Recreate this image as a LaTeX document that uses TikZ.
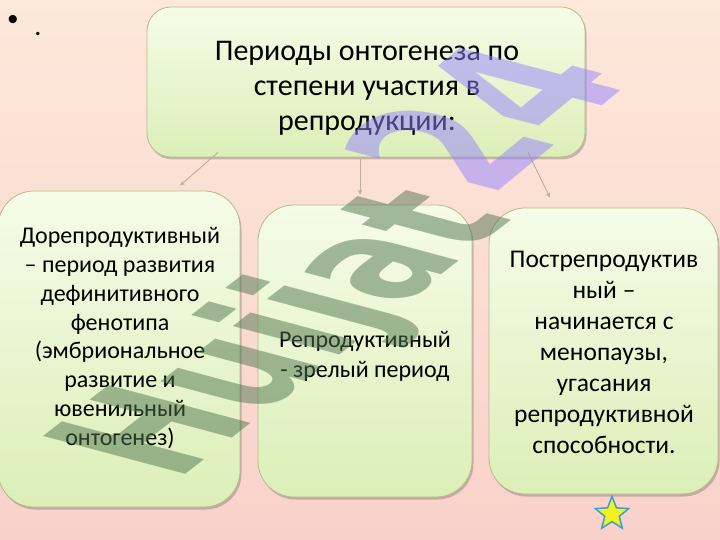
\documentclass[tikz,border=0pt]{standalone}
\usepackage{fontspec}
\setmainfont{Carlito}
\newfontfamily\wmfont{DejaVu Sans}
\newfontfamily\bulfont{Liberation Sans}
\usetikzlibrary{shapes.geometric,shadows,calc,arrows.meta}
\definecolor{bgtop}{HTML}{FDE8DA}
\definecolor{bgbot}{HTML}{F8D2CA}
\definecolor{boxtop}{HTML}{F5FCE8}
\definecolor{boxbot}{HTML}{DCEFB8}
\definecolor{boxborder}{HTML}{BDB88A}
\definecolor{conncol}{HTML}{BFAE98}
\definecolor{starfill}{HTML}{F2F21E}
\definecolor{starline}{HTML}{3A9FD0}
\definecolor{wmgreen}{HTML}{50754F}
\definecolor{wmpurple}{HTML}{9482FF}
\tikzset{
  box/.style={draw=boxborder, line width=0.8pt, top color=boxtop, bottom color=boxbot,
    drop shadow={shadow xshift=1.5pt, shadow yshift=-2.5pt, opacity=0.3, fill=black!70}},
  txt/.style={align=center, inner sep=0pt, text=black},
  conn/.style={draw=conncol, line width=0.9pt, -{Stealth[length=5pt,width=4.5pt]}},
  wm/.style={font=\wmfont\bfseries\fontsize{100}{100}\selectfont, inner sep=0pt, opacity=0.5}
}
\begin{document}
\begin{tikzpicture}[x=1pt,y=-1pt]
\useasboundingbox (0,0) rectangle (720,540);
\shade[top color=bgtop,bottom color=bgbot] (0,0) rectangle (720,540);

\node[box, minimum width=438pt, minimum height=150pt, rounded corners=24pt] (top) at (366,82) {};
\node[box, minimum width=242pt, minimum height=316pt, rounded corners=36pt] (left) at (119,349) {};
\node[box, minimum width=214pt, minimum height=292pt, rounded corners=36pt] (mid) at (365,351) {};
\node[box, minimum width=229pt, minimum height=286pt, rounded corners=36pt] (right) at (603.5,351) {};

\node[txt, font=\fontsize{30}{35}\selectfont] (toptxt) at (367,88)
  {Периоды онтогенеза по\\степени участия в\\репродукции:};
\node[txt, font=\fontsize{24}{28.8}\selectfont] (lefttxt) at (120,338)
  {Дорепродуктивный\\– период развития\\дефинитивного\\фенотипа\\(эмбриональное\\развитие и\\ювенильный\\онтогенез)};
\node[txt, font=\fontsize{24}{30}\selectfont] (midtxt) at (365,356)
  {Репродуктивный\\- зрелый период};
\node[txt, font=\fontsize{25.5}{31}\selectfont] (righttxt) at (604,352)
  {Пострепродуктив\\ный –\\начинается с\\менопаузы,\\угасания\\репродуктивной\\способности.};

\draw[conn] ($(top.south)+(-148,-5)$) -- ($(left.north)+(61,-5)$);
\draw[conn] ($(top.south)+(-6,2)$) -- ($(mid.north)+(-5,-10)$);
\draw[conn] ($(top.south)+(162,-5)$) -- ($(right.north)+(-53.5,-10)$);

\node[star, star points=5, star point ratio=2.3, minimum size=35pt, inner sep=0pt,
  fill=starfill, draw=starline, line width=1.5pt] (star) at (612,514) {};

\node[font=\bulfont\fontsize{30}{30}\selectfont, inner sep=0pt] (bullet) at (13,23) {•};
\node[font=\fontsize{28}{28}\selectfont, inner sep=0pt, anchor=base] (period) at (38,36) {.};

\begin{scope}[shift={(176,482)}, cm={1.0,0.78,-1.95,0.52,(0,0)}]
\node[wm, transform shape, anchor=base west, text=wmgreen] (wmark) at (0,0) {Huijat};
\end{scope}
\begin{scope}[shift={(490,198)}, cm={1.05,0.86,-2.2,0.58,(0,0)}]
\node[wm, transform shape, anchor=base west, text=wmpurple] (wmnum) at (0,0) {24};
\end{scope}
\end{tikzpicture}
\end{document}
